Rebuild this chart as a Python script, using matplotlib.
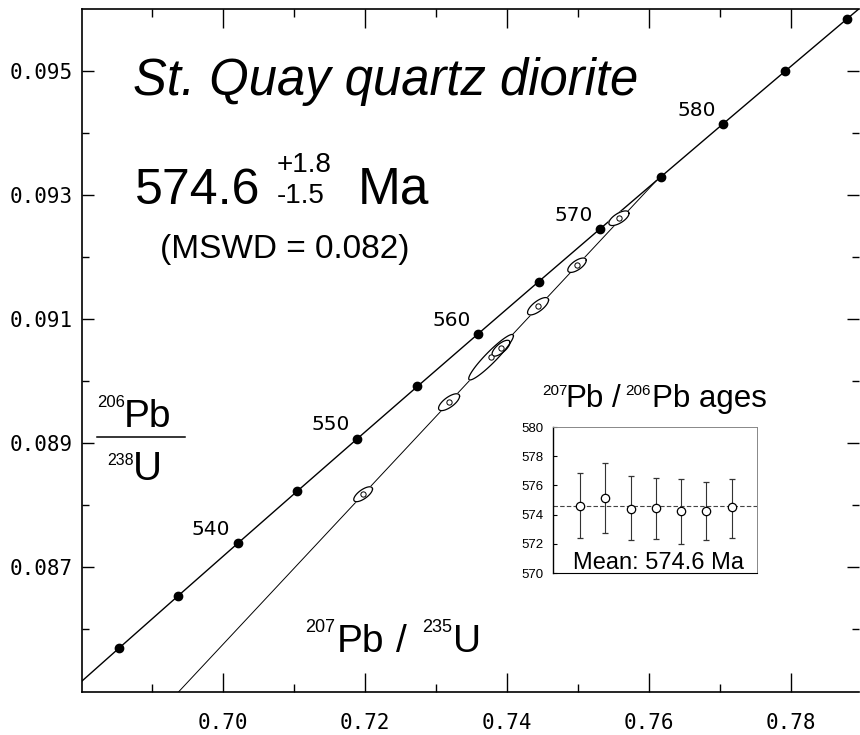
import numpy as np
import matplotlib.pyplot as plt
from matplotlib.ticker import FixedLocator, FormatStrFormatter

W, H = 860, 735

# decay constants (1/yr)
L238 = 1.55125e-10
L235 = 9.8485e-10

# concordia ticks (Ma)
conc_ages = [525, 530, 535, 540, 545, 550, 555, 560, 565, 570, 575, 580, 585, 590, 595]
dot_ages = [530, 535, 540, 545, 550, 555, 560, 565, 570, 575, 580, 585, 590]
label_ages = [540, 550, 560, 570, 580]

upper_age = 574.6
lower_age = 0.0

# analyses: 207Pb/235U, 206Pb/238U, ellipse half-extents and correlation
r75 = [0.75577, 0.74986, 0.74437, 0.73915, 0.73775, 0.73183, 0.71972]
r68 = [0.092624, 0.091866, 0.091204, 0.090527, 0.090382, 0.089656, 0.088171]
s75 = [0.00142, 0.00130, 0.00148, 0.00126, 0.00315, 0.00148, 0.00132]
s68 = [0.000118, 0.000116, 0.000140, 0.000128, 0.000367, 0.000136, 0.000120]
rho = [0.66, 0.67, 0.72, 0.72, 0.94, 0.71, 0.70]

# 207Pb/206Pb ages for the inset
pb_ages = [574.59, 575.14, 574.36, 574.48, 574.23, 574.25, 574.52]
pb_hi = [576.85, 577.53, 576.64, 576.53, 576.47, 576.23, 576.47]
pb_lo = [572.42, 572.74, 572.24, 572.36, 572.01, 572.24, 572.42]
pb_mean = 574.6

sans = 'Liberation Sans'


def concordia(t_ma):
    t = np.asarray(t_ma, dtype=float) * 1e6
    return np.expm1(L235 * t), np.expm1(L238 * t)


def ftxt(x, y, s, size, **kw):
    # x, y in picture pixels from the top left
    fig.text(x / W, 1 - y / H, s, fontsize=size, ha='left', va='baseline',
             family=sans, **kw)


fig = plt.figure(figsize=(W / 100, H / 100), dpi=100)
ax = fig.add_axes([82 / W, (H - 692) / H, (859 - 82) / W, (692 - 9) / H])

# concordia curve and age dots
cx, cy = concordia(conc_ages)
ax.plot(cx, cy, color='black', lw=1.0, zorder=3)
dx, dy = concordia(dot_ages)
ax.plot(dx, dy, 'o', color='black', ms=6, zorder=4)
for a in label_ages:
    px, py = concordia(a)
    ax.annotate(str(a), (px, py), xytext=(-19, 10), textcoords='offset points',
                ha='center', va='center', fontsize=14.5, family='DejaVu Sans')

# discordia
ux, uy = concordia([lower_age, upper_age])
ax.plot(ux, uy, color='black', lw=0.7, zorder=2)

# error ellipses
th = np.linspace(0, 2 * np.pi, 120)
for x0, y0, sx, sy, r in zip(r75, r68, s75, s68, rho):
    ex = x0 + sx * np.cos(th)
    ey = y0 + sy * (r * np.cos(th) + np.sqrt(1 - r ** 2) * np.sin(th))
    ax.fill(ex, ey, color='white', zorder=5)
    ax.plot(ex, ey, color='black', lw=0.9, zorder=6)
ax.plot(r75, r68, 'o', mfc='white', mec='black', ms=3.8, mew=0.7, zorder=7)

ax.set_xlim(0.6801, 0.7896)
ax.set_ylim(0.08498, 0.09600)

ax.xaxis.set_major_locator(FixedLocator([0.70, 0.72, 0.74, 0.76, 0.78]))
ax.xaxis.set_minor_locator(FixedLocator([0.69, 0.71, 0.73, 0.75, 0.77, 0.79]))
ax.yaxis.set_major_locator(FixedLocator([0.087, 0.089, 0.091, 0.093, 0.095]))
ax.yaxis.set_minor_locator(FixedLocator([0.086, 0.088, 0.090, 0.092, 0.094]))
ax.xaxis.set_major_formatter(FormatStrFormatter('%.2f'))
ax.yaxis.set_major_formatter(FormatStrFormatter('%.3f'))

ax.tick_params(axis='x', which='major', direction='in', length=13.5, width=1.0,
               top=True, pad=15, labelsize=15)
ax.tick_params(axis='x', which='minor', direction='in', length=5.8, width=1.0, top=True)
ax.tick_params(axis='y', which='major', direction='in', length=8.6, width=1.0,
               right=True, pad=7, labelsize=15)
ax.tick_params(axis='y', which='minor', direction='in', length=4.7, width=1.0, right=True)
for lab in ax.get_xticklabels() + ax.get_yticklabels():
    lab.set_family('DejaVu Sans Mono')
for side in ['left', 'bottom', 'top']:
    ax.spines[side].set_linewidth(1.2)
ax.spines['right'].set_visible(False)

# texts
ftxt(133, 95, 'St. Quay quartz diorite', 36.5, style='italic')
ftxt(135, 204, '574.6', 36)
ftxt(277, 172, '+1.8', 20)
ftxt(277, 203, '-1.5', 20)
ftxt(358, 204, 'Ma', 37)
ftxt(160, 258, '(MSWD = 0.082)', 24)

ftxt(97, 407, '206', 12)
ftxt(124, 427, 'Pb', 28)
ftxt(107, 465, '238', 11.5)
ftxt(133, 480, 'U', 29)
fig.add_artist(plt.Line2D([97 / W, 185 / W], [1 - 437 / H, 1 - 437 / H],
                          color='black', lw=1.1))

ftxt(305, 632, '207', 13)
ftxt(337, 652, 'Pb', 28)
ftxt(396, 652, '/', 28)
ftxt(422, 632, '235', 13)
ftxt(453, 652, 'U', 28)

ftxt(542, 395, '207', 11)
ftxt(565, 407, 'Pb', 22.5)
ftxt(612, 407, '/', 22.5)
ftxt(625, 395, '206', 11)
ftxt(652, 407, 'Pb ages', 22.5)

# inset
ins = fig.add_axes([553 / W, (H - 573) / H, 204 / W, 146 / H])
pos = np.arange(1, len(pb_ages) + 1)
yerr = [np.subtract(pb_ages, pb_lo), np.subtract(pb_hi, pb_ages)]
ins.axhline(pb_mean, color='#444444', lw=0.8, ls=(0, (4, 2)), zorder=1)
ins.errorbar(pos, pb_ages, yerr=yerr, fmt='o', mfc='white', mec='black',
             ms=6, mew=0.9, ecolor='#333333', elinewidth=0.8, capsize=2,
             capthick=0.8, zorder=3)
ins.set_xlim(-0.07, 8.0)
ins.set_ylim(570, 580)
ins.set_yticks([570, 572, 574, 576, 578, 580])
ins.set_xticks([])
ins.tick_params(axis='y', direction='in', length=3, width=0.8, pad=7, labelsize=9.5)
for lab in ins.get_yticklabels():
    lab.set_family(sans)
ins.spines['left'].set_linewidth(1.0)
ins.spines['bottom'].set_linewidth(0.8)
for side in ['top', 'right']:
    ins.spines[side].set_color('#888888')
    ins.spines[side].set_linewidth(0.7)
ins.text(0.1, 0.028, 'Mean: 574.6 Ma', transform=ins.transAxes, fontsize=17,
         family=sans, ha='left', va='baseline')

fig.savefig('out.png', dpi=100)
